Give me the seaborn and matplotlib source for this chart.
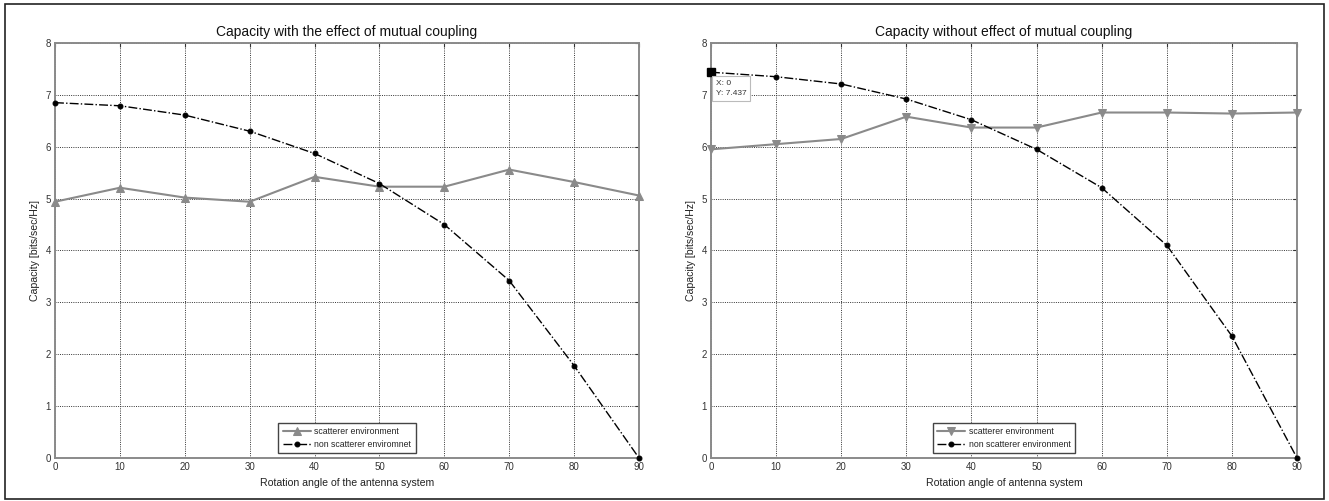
import matplotlib
matplotlib.use("Agg")
import matplotlib.pyplot as plt
import seaborn as sns
import pandas as pd
from matplotlib.patches import Rectangle

# ---- data ----
angles = [0, 10, 20, 30, 40, 50, 60, 70, 80, 90]
left_scatter = [4.94, 5.21, 5.02, 4.94, 5.42, 5.23, 5.23, 5.56, 5.32, 5.06]
left_nonscatter = [6.85, 6.79, 6.61, 6.30, 5.87, 5.29, 4.50, 3.42, 1.78, 0.0]
right_scatter = [5.95, 6.05, 6.15, 6.58, 6.37, 6.37, 6.66, 6.66, 6.64, 6.66]
right_nonscatter = [7.437, 7.35, 7.21, 6.92, 6.52, 5.95, 5.21, 4.10, 2.35, 0.0]

titles = ["Capacity with the effect of mutual coupling",
          "Capacity without effect of mutual coupling"]
xlabels = ["Rotation angle of the antenna system",
           "Rotation angle of antenna system"]
ylabel = "Capacity [bits/sec/Hz]"
legend_left = ["scatterer environment", "non scatterer enviromnet"]
legend_right = ["scatterer environment", "non scatterer environment"]
xticks = [0, 10, 20, 30, 40, 50, 60, 70, 80, 90]
yticks = [0, 1, 2, 3, 4, 5, 6, 7, 8]
tip_x, tip_y = 0, 7.437

sns.set_style("white")
plt.rcParams['font.family'] = ['Liberation Sans', 'DejaVu Sans']

fig = plt.figure(figsize=(13.29, 5.01), dpi=100)
W, H = 1329, 501
ax_l = fig.add_axes([55 / W, 1 - 458 / H, 584 / W, 415 / H])
ax_r = fig.add_axes([711 / W, 1 - 458 / H, 586 / W, 415 / H])

# outer frame
fig.patches.append(Rectangle((5 / W, 2 / H), 1319 / W, 495 / H,
                             transform=fig.transFigure, fill=False,
                             edgecolor='#222222', linewidth=1.2))

gray = '#8a8a8a'

def setup(ax, scat, nons, marker, title, xlabel, labels):
    df = pd.DataFrame({"angle": angles, "scat": scat, "nons": nons})
    sns.lineplot(data=df, x="angle", y="scat", ax=ax, color=gray,
                 marker=marker, markersize=6, markeredgecolor=gray,
                 linewidth=1.5, label=labels[0], clip_on=False, zorder=4)
    sns.lineplot(data=df, x="angle", y="nons", ax=ax, color='black',
                 marker='o', markersize=3.5, markeredgecolor='black',
                 linewidth=1.0, linestyle='-.', label=labels[1],
                 clip_on=False, zorder=5)
    ax.set_xlim(0, 90)
    ax.set_ylim(0, 8)
    ax.set_xticks(xticks)
    ax.set_yticks(yticks)
    ax.grid(True, color='#333333', linestyle=(0, (1, 1.3)), linewidth=0.7)
    ax.set_axisbelow(True)
    for s in ax.spines.values():
        s.set_color(gray)
        s.set_linewidth(1.4)
    ax.tick_params(direction='in', length=3, labelsize=7, colors='#333333',
                   pad=3, top=True, right=True)
    ax.set_title(title, fontsize=10, pad=5, color='#111111')
    ax.set_xlabel(xlabel, fontsize=7.6, labelpad=4, color='#222222')
    ax.set_ylabel(ylabel, fontsize=7.6, labelpad=4, color='#222222')
    leg = ax.legend(loc='lower center', fontsize=6.3, frameon=True,
                    fancybox=False, edgecolor='#444444', framealpha=1,
                    handlelength=3.2, handletextpad=0.4, labelspacing=0.45,
                    borderaxespad=0.55, borderpad=0.5)
    leg.get_frame().set_linewidth(1.0)
    leg.set_zorder(8)

setup(ax_l, left_scatter, left_nonscatter, '^', titles[0], xlabels[0], legend_left)
setup(ax_r, right_scatter, right_nonscatter, 'v', titles[1], xlabels[1], legend_right)

# data tip
ax_r.plot([tip_x], [tip_y], marker='s', color='black', markersize=6,
          zorder=6, clip_on=False)
ax_r.annotate(f"X: {tip_x}\nY: {tip_y}", xy=(tip_x, tip_y),
              xytext=(5, -8), textcoords='offset pixels',
              ha='left', va='top', fontsize=6, color='#333333',
              linespacing=1.6,
              bbox=dict(boxstyle='square,pad=0.45', fc='white',
                        ec='#bbbbbb', lw=0.8), zorder=7)

fig.savefig("out.png", dpi=100)
